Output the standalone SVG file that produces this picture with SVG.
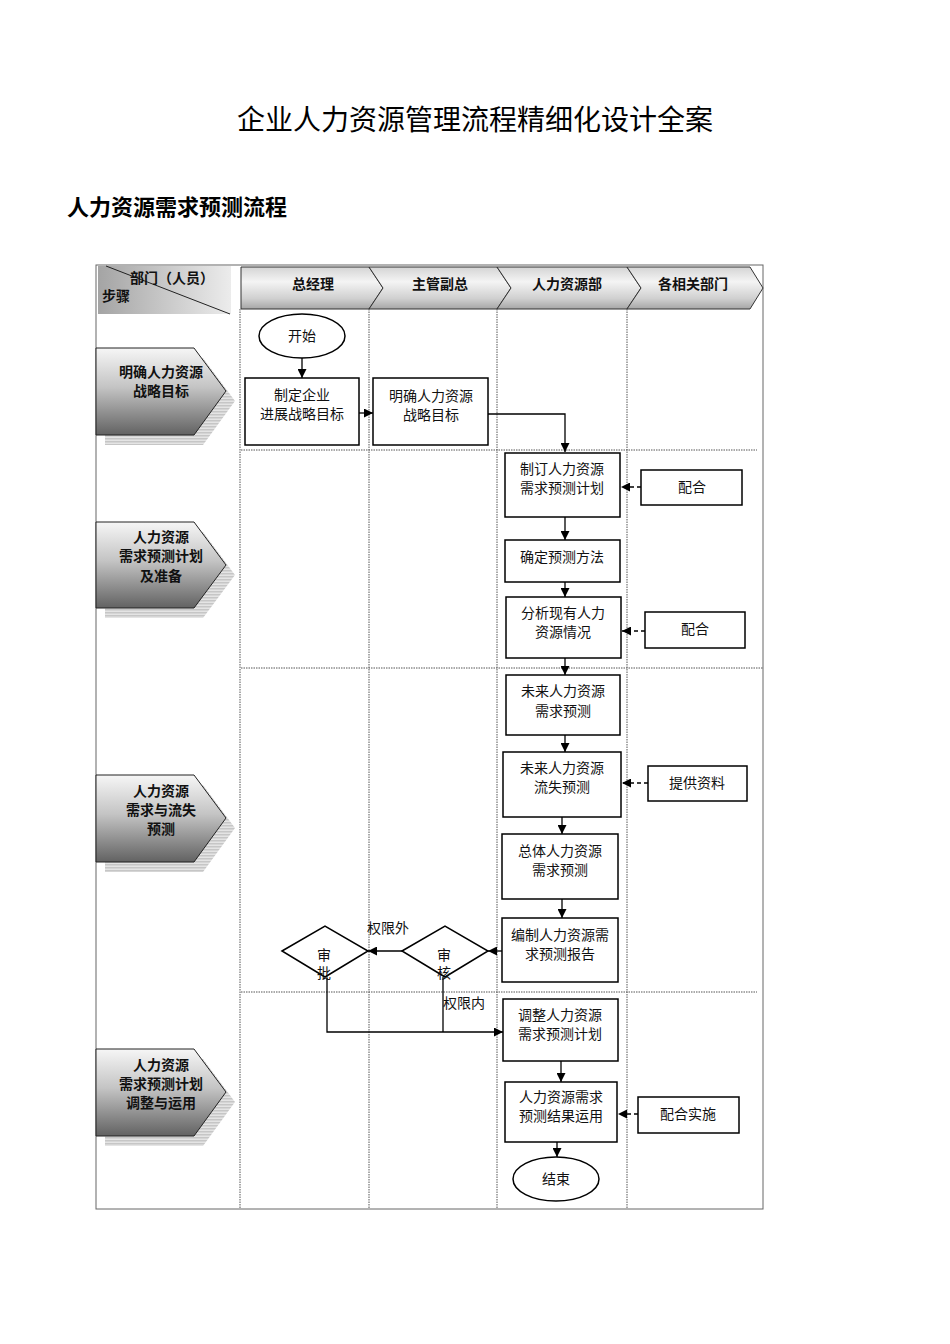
<svg xmlns="http://www.w3.org/2000/svg" width="950" height="1344" viewBox="0 0 950 1344">
<defs>
<linearGradient id="gStage" x1="0" y1="0" x2="0" y2="1">
<stop offset="0" stop-color="#f6f6f6"/>
<stop offset="0.45" stop-color="#c4c4c4"/>
<stop offset="1" stop-color="#626262"/>
</linearGradient>
<linearGradient id="gHead" x1="0" y1="0" x2="0" y2="1">
<stop offset="0" stop-color="#d4d4d4"/>
<stop offset="0.35" stop-color="#f4f4f4"/>
<stop offset="0.75" stop-color="#d0d0d0"/>
<stop offset="1" stop-color="#a6a6a6"/>
</linearGradient>
<linearGradient id="gCorner" x1="0" y1="0" x2="1" y2="0">
<stop offset="0" stop-color="#a4a4a4"/>
<stop offset="1" stop-color="#ececec"/>
</linearGradient>
<pattern id="pStripe" width="4" height="3" patternUnits="userSpaceOnUse">
<rect width="4" height="3" fill="#e4e4e4"/>
<rect width="4" height="1.5" fill="#c6c6c6"/>
</pattern>
<marker id="ah" viewBox="0 0 10 10" refX="10" refY="5" markerWidth="9" markerHeight="9" markerUnits="userSpaceOnUse" orient="auto">
<path d="M0,0 L10,5 L0,10 z" fill="#000"/>
</marker>
</defs>
<style>
.t{font-family:"Liberation Sans","Noto Sans CJK SC",sans-serif;font-size:14px;fill:#111;text-anchor:middle}
.b{font-weight:bold}
.box{fill:#fff;stroke:#000;stroke-width:1.5}
.lane{stroke:#555;stroke-width:1;stroke-dasharray:1.5 1;fill:none}
.ln{stroke:#000;stroke-width:1.3;fill:none}
.dl{stroke:#000;stroke-width:1.3;fill:none;stroke-dasharray:4 3}
.stage{fill:url(#gStage);stroke:#222;stroke-width:1}
.shadow{fill:url(#pStripe)}
.head{fill:url(#gHead);stroke:#333;stroke-width:1}
</style>
<rect width="950" height="1344" fill="#fff"/>
<text x="475" y="130" style="font-family:'Noto Sans CJK SC',serif;font-size:28px;text-anchor:middle;fill:#000">企业人力资源管理流程精细化设计全案</text>
<text x="67" y="215" style="font-family:'Noto Sans CJK SC',sans-serif;font-size:22px;font-weight:bold;fill:#000">人力资源需求预测流程</text>

<rect x="96" y="265" width="667" height="944" fill="none" stroke="#666" stroke-width="1"/>

<g id="corner">
<rect x="98" y="266" width="133" height="48" fill="url(#gCorner)"/>
<line x1="106" y1="266" x2="230" y2="314" stroke="#222" stroke-width="1"/>
<text x="172" y="283" class="t b">部门（人员）</text>
<text x="116" y="301" class="t b">步骤</text>
</g>

<g id="header">
<polygon class="head" points="241,267 369,267 383,288 369,309 241,309"/>
<polygon class="head" points="369,267 497,267 511,288 497,309 369,309 383,288"/>
<polygon class="head" points="497,267 627,267 641,288 627,309 497,309 511,288"/>
<polygon class="head" points="627,267 750,267 763,288 750,309 627,309 641,288"/>
<text x="313" y="289" class="t b">总经理</text>
<text x="440" y="289" class="t b">主管副总</text>
<text x="567" y="289" class="t b">人力资源部</text>
<text x="693" y="289" class="t b">各相关部门</text>
</g>

<g id="lanes">
<line class="lane" x1="240" y1="309" x2="240" y2="1209"/>
<line class="lane" x1="369" y1="309" x2="369" y2="1209"/>
<line class="lane" x1="497" y1="309" x2="497" y2="1209"/>
<line class="lane" x1="627" y1="309" x2="627" y2="1209"/>
<line class="lane" x1="241" y1="450" x2="757" y2="450"/>
<line class="lane" x1="241" y1="668" x2="763" y2="668"/>
<line class="lane" x1="241" y1="992" x2="757" y2="992"/>
</g>

<g id="stage1">
<polygon class="shadow" points="105,358 203,358 235,401 203,445 105,445"/>
<polygon class="stage" points="96,348 194,348 226,391 194,435 96,435"/>
<text x="161" y="377" class="t b">明确人力资源</text>
<text x="161" y="396" class="t b">战略目标</text>
</g>
<g id="stage2">
<polygon class="shadow" points="105,532 203,532 235,575 203,618 105,618"/>
<polygon class="stage" points="96,522 194,522 226,565 194,608 96,608"/>
<text x="161" y="542" class="t b">人力资源</text>
<text x="161" y="561" class="t b">需求预测计划</text>
<text x="161" y="581" class="t b">及准备</text>
</g>
<g id="stage3">
<polygon class="shadow" points="105,785 203,785 235,828 203,872 105,872"/>
<polygon class="stage" points="96,775 194,775 226,818 194,862 96,862"/>
<text x="161" y="796" class="t b">人力资源</text>
<text x="161" y="815" class="t b">需求与流失</text>
<text x="161" y="834" class="t b">预测</text>
</g>
<g id="stage4">
<polygon class="shadow" points="105,1059 203,1059 235,1102 203,1146 105,1146"/>
<polygon class="stage" points="96,1049 194,1049 226,1092 194,1136 96,1136"/>
<text x="161" y="1070" class="t b">人力资源</text>
<text x="161" y="1089" class="t b">需求预测计划</text>
<text x="161" y="1108" class="t b">调整与运用</text>
</g>

<g id="connectors">
<line class="ln" x1="302" y1="358" x2="302" y2="378" marker-end="url(#ah)"/>
<line class="ln" x1="359" y1="413" x2="373" y2="413" marker-end="url(#ah)"/>
<polyline class="ln" points="488,414 565,414 565,452" marker-end="url(#ah)"/>
<line class="dl" x1="641" y1="487" x2="621" y2="487" marker-end="url(#ah)"/>
<line class="ln" x1="565" y1="517" x2="565" y2="540" marker-end="url(#ah)"/>
<line class="ln" x1="565" y1="582" x2="565" y2="597" marker-end="url(#ah)"/>
<line class="dl" x1="645" y1="631" x2="622" y2="631" marker-end="url(#ah)"/>
<line class="ln" x1="565" y1="658" x2="565" y2="675" marker-end="url(#ah)"/>
<line class="ln" x1="565" y1="735" x2="565" y2="752" marker-end="url(#ah)"/>
<line class="dl" x1="648" y1="783" x2="622" y2="783" marker-end="url(#ah)"/>
<line class="ln" x1="562" y1="817" x2="562" y2="834" marker-end="url(#ah)"/>
<line class="ln" x1="562" y1="899" x2="562" y2="918" marker-end="url(#ah)"/>
<line class="ln" x1="502" y1="951" x2="488" y2="951" marker-end="url(#ah)"/>
<line class="ln" x1="402" y1="951" x2="368" y2="951" marker-end="url(#ah)"/>
<polyline class="ln" points="327,978 327,1032 503,1032" marker-end="url(#ah)"/>
<line class="ln" x1="443" y1="977" x2="443" y2="1032"/>
<line class="ln" x1="561" y1="1061" x2="561" y2="1082" marker-end="url(#ah)"/>
<line class="dl" x1="638" y1="1114" x2="618" y2="1114" marker-end="url(#ah)"/>
<line class="ln" x1="557" y1="1142" x2="557" y2="1157" marker-end="url(#ah)"/>
<text x="388" y="933" class="t">权限外</text>
<text x="464" y="1008" class="t">权限内</text>
</g>

<g id="start">
<ellipse cx="302" cy="336" rx="43" ry="22" class="box"/>
<text x="302" y="341" class="t">开始</text>
</g>
<g id="n1">
<rect x="245" y="378" width="114" height="67" class="box"/>
<text x="302" y="400" class="t">制定企业</text>
<text x="302" y="419" class="t">进展战略目标</text>
</g>
<g id="n2">
<rect x="373" y="378" width="115" height="67" class="box"/>
<text x="431" y="401" class="t">明确人力资源</text>
<text x="431" y="420" class="t">战略目标</text>
</g>
<g id="n3">
<rect x="505" y="453" width="115" height="64" class="box"/>
<text x="562" y="474" class="t">制订人力资源</text>
<text x="562" y="493" class="t">需求预测计划</text>
</g>
<g id="c1">
<rect x="641" y="470" width="101" height="35" class="box"/>
<text x="692" y="492" class="t">配合</text>
</g>
<g id="n4">
<rect x="505" y="540" width="115" height="42" class="box"/>
<text x="562" y="562" class="t">确定预测方法</text>
</g>
<g id="n5">
<rect x="506" y="597" width="115" height="61" class="box"/>
<text x="563" y="618" class="t">分析现有人力</text>
<text x="563" y="637" class="t">资源情况</text>
</g>
<g id="c2">
<rect x="645" y="612" width="100" height="36" class="box"/>
<text x="695" y="634" class="t">配合</text>
</g>
<g id="n6">
<rect x="506" y="675" width="114" height="60" class="box"/>
<text x="563" y="696" class="t">未来人力资源</text>
<text x="563" y="716" class="t">需求预测</text>
</g>
<g id="n7">
<rect x="503" y="752" width="118" height="65" class="box"/>
<text x="562" y="773" class="t">未来人力资源</text>
<text x="562" y="792" class="t">流失预测</text>
</g>
<g id="c3">
<rect x="648" y="766" width="99" height="35" class="box"/>
<text x="697" y="788" class="t">提供资料</text>
</g>
<g id="n8">
<rect x="502" y="834" width="116" height="65" class="box"/>
<text x="560" y="856" class="t">总体人力资源</text>
<text x="560" y="875" class="t">需求预测</text>
</g>
<g id="n9">
<rect x="502" y="918" width="116" height="64" class="box"/>
<text x="560" y="940" class="t">编制人力资源需</text>
<text x="560" y="959" class="t">求预测报告</text>
</g>
<g id="d1">
<polygon points="402,951 445,926 488,951 445,977" class="box"/>
<text x="444" y="960" class="t">审</text>
<text x="444" y="978" class="t">核</text>
</g>
<g id="d2">
<polygon points="282,951 325,926 368,951 325,977" class="box"/>
<text x="324" y="960" class="t">审</text>
<text x="324" y="978" class="t">批</text>
</g>
<g id="n10">
<rect x="503" y="999" width="115" height="62" class="box"/>
<text x="560" y="1020" class="t">调整人力资源</text>
<text x="560" y="1039" class="t">需求预测计划</text>
</g>
<g id="n11">
<rect x="505" y="1082" width="112" height="60" class="box"/>
<text x="561" y="1102" class="t">人力资源需求</text>
<text x="561" y="1121" class="t">预测结果运用</text>
</g>
<g id="c4">
<rect x="638" y="1097" width="101" height="36" class="box"/>
<text x="688" y="1119" class="t">配合实施</text>
</g>
<g id="end">
<ellipse cx="556" cy="1179" rx="43" ry="22" class="box"/>
<text x="556" y="1184" class="t">结束</text>
</g>
</svg>
